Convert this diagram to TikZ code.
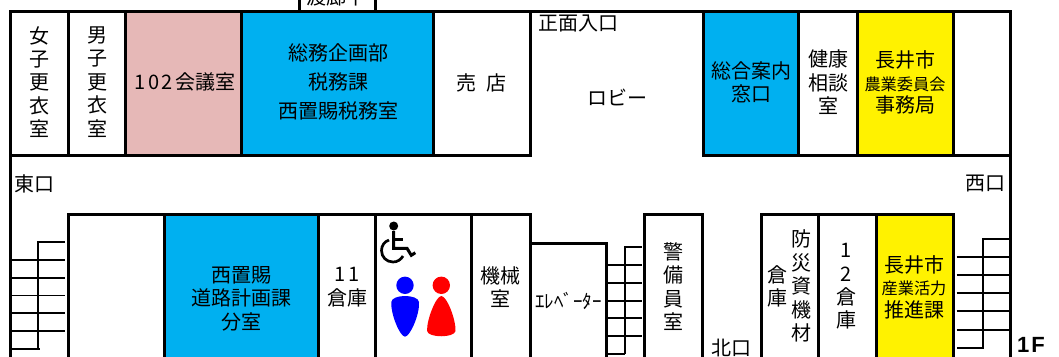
\documentclass[tikz,border=0pt]{standalone}
\usepackage{fontspec}
\setmainfont{Noto Sans CJK JP}
\newfontfamily\latinbold{Liberation Sans}
\tikzset{
  wall/.style={line width=3pt,line cap=rect},
  thin stair/.style={line width=1.8pt},
  lbl/.style={inner sep=0pt,align=center,text=black,font=\fontsize{20}{23.4}\selectfont},
  lblw/.style={inner sep=0pt,align=center,text=black,font=\fontsize{20}{29}\selectfont},
}
\newcommand{\smalltext}[1]{{\fontsize{16.2}{20}\selectfont #1}}
\definecolor{pinkroom}{HTML}{E6B8B7}
\definecolor{blueroom}{HTML}{00B0F0}
\begin{document}
\begin{tikzpicture}[x=1pt,y=-1pt]
\useasboundingbox (0,0) rectangle (1059,356);
\clip (0,0) rectangle (1059,356);
% fills
\fill[pinkroom] (125.7,11) rectangle (241.9,155);
\fill[blueroom] (241.9,11) rectangle (433,155);
\fill[blueroom] (703,11) rectangle (798.9,155);
\fill[yellow] (857,11) rectangle (953,155);
\fill[blueroom] (164.5,214.3) rectangle (318.5,360);
\fill[yellow] (876.6,214.3) rectangle (953.4,360);
% outer walls
\draw[wall] (10.6,360) -- (10.6,11) -- (1010.4,11) -- (1010.4,360);
\draw[wall] (299,-5) -- (299,11) (375.5,-5) -- (375.5,11);
% top row
\draw[wall] (10.6,155) -- (530,155) -- (530,11);
\draw[wall] (703,11) -- (703,155) -- (1010.4,155);
\foreach \x in {68.4,125.7,241.9,433,798.9,857,953}{\draw[wall] (\x,11) -- (\x,155);}
% bottom row
\draw[wall] (68.4,360) -- (68.4,214.3) -- (530,214.3) -- (530,360);
\foreach \x in {164.5,318.5,375.3,471}{\draw[wall] (\x,214.3) -- (\x,360);}
\draw[wall] (530,243.7) -- (606.7,243.7) -- (606.7,360);
\draw[wall] (644.8,360) -- (644.8,214.3) -- (702.6,214.3) -- (702.6,360);
\draw[wall] (761,360) -- (761,214.3) -- (953.4,214.3) -- (953.4,360);
\draw[wall] (818.2,214.3) -- (818.2,360) (876.6,214.3) -- (876.6,360);
% stairs left
\draw[thin stair] (65,242) -- (38,242) -- (38,349);
\foreach \y in {260,278,295.5,313,331}{\draw[thin stair] (11,\y) -- (65,\y);}
\draw[thin stair] (11,349) -- (39.5,349);
% stairs middle
\draw[thin stair] (641.5,247) -- (624.6,247) -- (624.6,354);
\foreach \y in {265,283,300.7,318,336}{\draw[thin stair] (607,\y) -- (641.5,\y);}
\draw[thin stair] (607,354) -- (624.6,354);
% stairs right
\draw[thin stair] (1009,238.7) -- (982.7,238.7) -- (982.7,348) -- (956.7,348);
\foreach \y in {256.7,275,293,311,330}{\draw[thin stair] (956.7,\y) -- (1009,\y);}
% wheelchair
\fill[black] (393.7,226) circle (4.5);
\draw[black,line width=3pt] (393.7,231) -- (393.7,248.3) -- (407,248.3) -- (411.3,255.3) -- (415.3,252.7);
\draw[black,line width=2.6pt] (393.7,239.3) -- (402.7,239.3);
\draw[black,line width=2.7pt] (389,240) .. controls (384.5,241.5) and (381.5,245.5) .. (381.5,250.5) .. controls (381.5,257) and (386.5,262) .. (393,262) .. controls (397.5,262) and (401,259.5) .. (403,256);
% people
\fill[blue] (405,285.3) circle (8.7);
\fill[blue] (391.3,302) .. controls (392,294) and (418,294) .. (419,302) .. controls (420,314) and (410,336.7) .. (405,336.7) .. controls (400,336.7) and (390.5,314) .. (391.3,302) -- cycle;
\fill[red] (441.3,285.3) circle (8.7);
\fill[red] (441.3,296) .. controls (447,296) and (456,320) .. (455.5,331) .. controls (454.5,338) and (428,338) .. (427.1,331) .. controls (426.5,320) and (436,296) .. (441.3,296) -- cycle;
% labels
\node[lbl] (watari) at (336.5,-3) {渡廊下};
\node[lbl] (f) at (39.5,82) {女\\子\\更\\衣\\室};
\node[lbl] (m) at (97.3,82) {男\\子\\更\\衣\\室};
\node[lbl] (conf) at (185,82) {1\kern2.5pt 0\kern2.5pt 2\kern2.5pt 会議室};
\node[lblw] (soumu) at (338,82) {総務企画部\\税務課\\西置賜税務室};
\node[lbl] (shop) at (481,83) {売\hspace{0.5em}店};
\node[lbl] (shomen) at (578.1,24) {正面入口};
\node[lbl] (lobby) at (617.2,97) {ロビー};
\node[lbl] (annai) at (751,82.5) {総合案内\\窓口};
\node[lbl] (kenko) at (828,82.5) {健康\\相談\\室};
\node[lbl] (nogyo) at (905,82.5) {長井市\\[-1pt]\smalltext{農業委員会}\\[-1pt]事務局};
\node[lbl] (east) at (34.5,184) {東口};
\node[lbl] (west) at (985,184) {西口};
\node[lbl] (doro) at (241.5,298.5) {西置賜\\道路計画課\\分室};
\node[lbl] (k11) at (347.3,287) {1\kern3pt 1\\倉庫};
\node[lbl] (kikai) at (500.4,287) {機械\\室};
\node[lbl,font=\fontsize{19}{23}\selectfont] (ev) at (568.5,301) {ｴﾚﾍﾞｰﾀｰ};
\node[lbl] (keibi) at (673.6,286.5) {警\\備\\員\\室};
\node[lbl] (souko) at (777.6,286.5) {倉\\庫};
\node[lbl] (bosai) at (801.3,286) {防\\災\\資\\機\\材};
\node[lbl] (k12) at (846.2,286.5) {1\\2\\倉\\庫};
\node[lbl] (sangyo) at (914,287) {長井市\\[-1pt]\smalltext{産業活力}\\[-1pt]推進課};
\node[lbl] (north) at (731.7,347.5) {北口};
\node[inner sep=0pt,text=black,font=\latinbold\bfseries\fontsize{22}{24}\selectfont] (floor) at (1031,345) {1\kern2pt F};
\end{tikzpicture}
\end{document}
